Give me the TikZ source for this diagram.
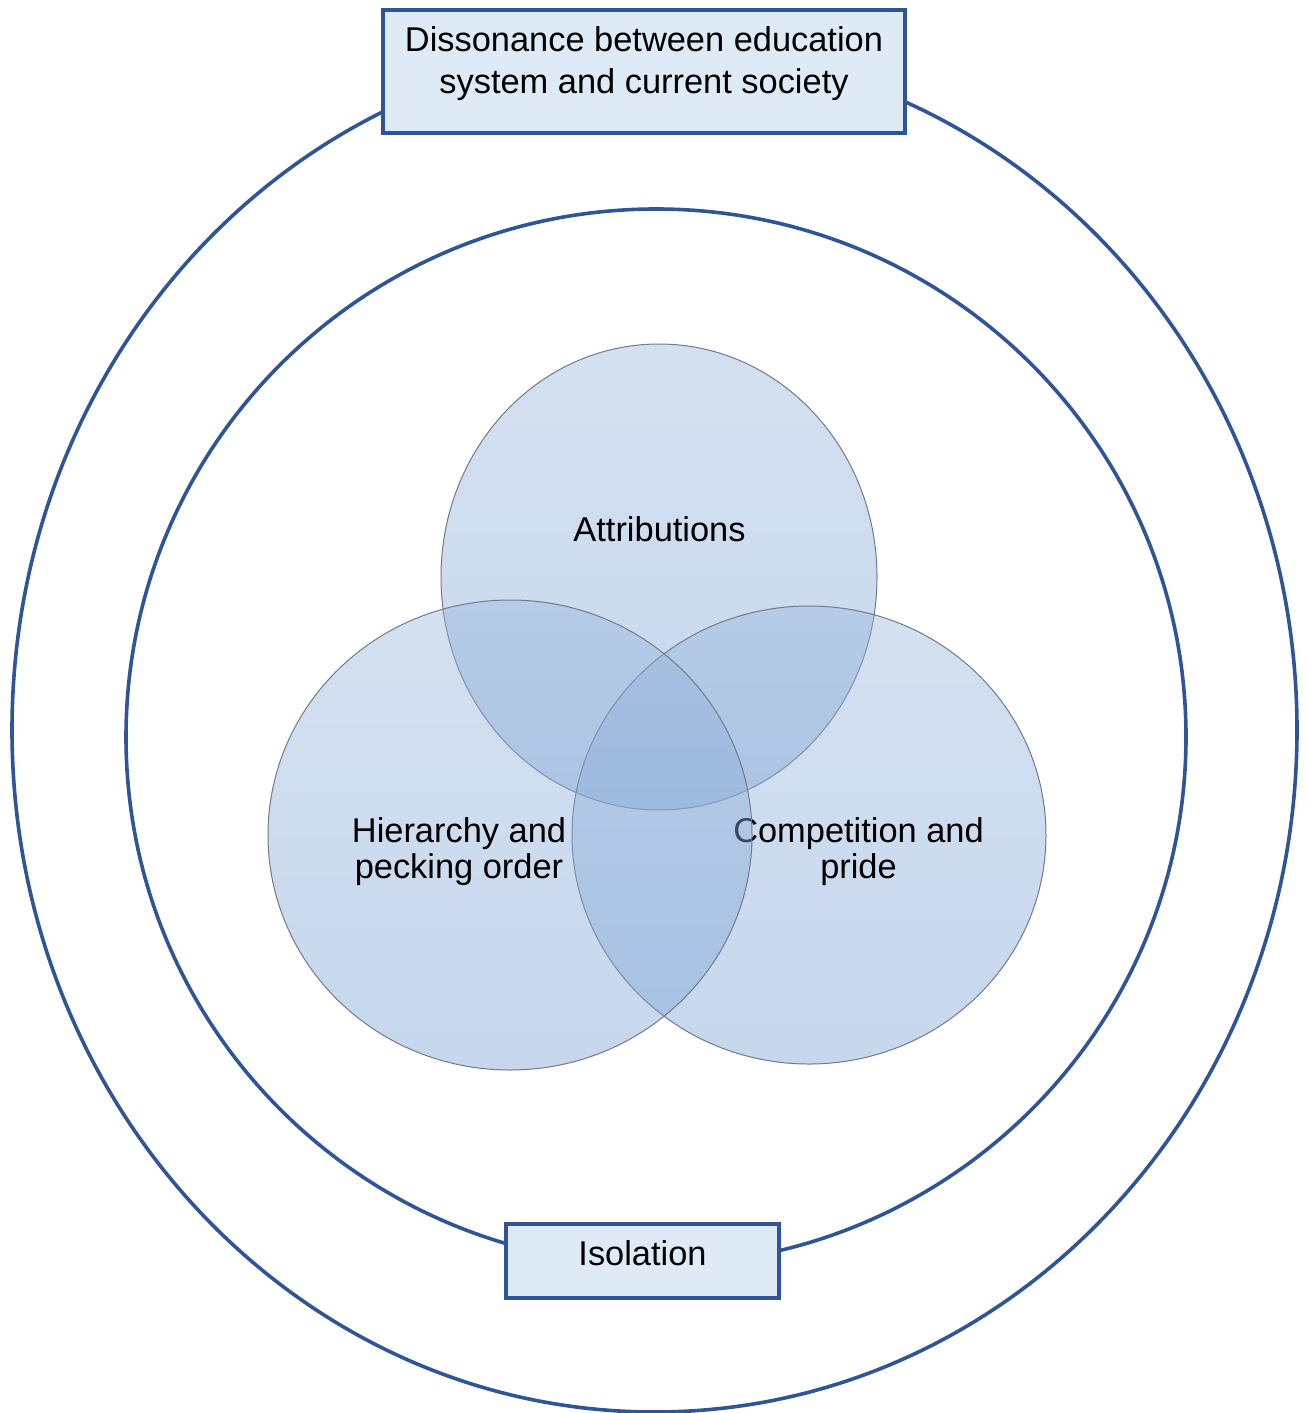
\documentclass[tikz,border=0pt]{standalone}
\usepackage{fontspec}
\setmainfont{Liberation Sans}
\usetikzlibrary{positioning}
\definecolor{frameBlue}{RGB}{47,85,151}
\definecolor{boxFill}{RGB}{222,234,246}
\definecolor{vennTop}{RGB}{150,181,219}
\definecolor{vennBottom}{RGB}{120,160,212}
\definecolor{vennLine}{RGB}{112,122,138}
\tikzset{
  ring/.style={draw=frameBlue, line width=1.8pt},
  framebox/.style={draw=frameBlue, fill=boxFill, line width=2pt, rectangle, inner sep=0pt},
  venn/.style={top color=vennTop, bottom color=vennBottom, fill opacity=0.42, draw=vennLine, line width=0.5pt},
  lbl/.style={font=\fontsize{17.2}{18}\selectfont, align=center, inner sep=0pt}
}

\begin{document}
\begin{tikzpicture}[x=0.5pt, y=-0.5pt]
  \useasboundingbox (0,0) rectangle (1306,1413);
  % outer and inner rings
  \draw[ring] (654.5,730) ellipse [x radius=321.25pt, y radius=341pt];
  \draw[ring] (656,737) ellipse [x radius=265pt, y radius=264pt];

  % three overlapping circles, each with its label
  \path[venn] (659,577) ellipse [x radius=109pt, y radius=116.5pt];
  \node[lbl] (attributions) at (659.5,529.5) {Attributions};
  \path[venn] (809,835) ellipse [x radius=118.5pt, y radius=114.5pt];
  \node[lbl] (competition) at (858.5,852) {Competition and\\pride};
  \path[venn] (510,835) ellipse [x radius=121pt, y radius=117.5pt];
  \node[lbl] (hierarchy) at (459,852) {Hierarchy and\\pecking order};

  % boxes sitting on the rings
  \node[framebox, minimum width=261pt, minimum height=61.5pt] (dissonance) at (644,71.5) {};
  \node[lbl, font=\fontsize{17.2}{21}\selectfont] (dissonanceText) at ([yshift=3.75pt]dissonance.center)
    {Dissonance between education\\system and current society};
  \node[framebox, minimum width=136.5pt, minimum height=37pt] (isolation) at (642.5,1261) {};
  \node[lbl] (isolationText) at ([yshift=4pt]isolation.center) {Isolation};
\end{tikzpicture}
\end{document}
